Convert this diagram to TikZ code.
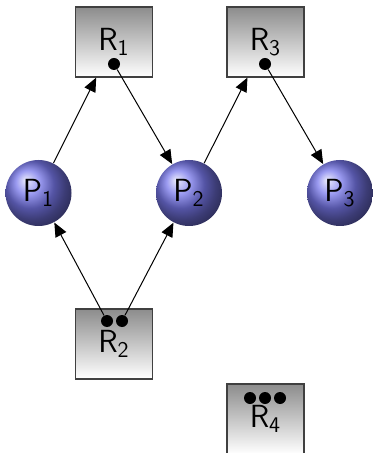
\documentclass[tikz,border=0pt]{standalone}
\usetikzlibrary{arrows.meta}
\definecolor{pblue}{RGB}{120,120,235}
\tikzset{
  res/.style={rectangle, draw=black!75, line width=.6pt, top color=black!45, bottom color=white,
    minimum width=38.5pt, minimum height=35pt, inner sep=0pt, font=\sffamily\fontsize{16}{19}\selectfont},
  proc/.style={circle, ball color=pblue, minimum size=33pt, inner sep=0pt, font=\sffamily\fontsize{16}{19}\selectfont},
  token/.style={circle, fill=black, inner sep=0pt, minimum size=6pt},
}
\begin{document}
\begin{tikzpicture}[x=.5pt, y=-.5pt, >={Triangle[length=7pt,width=6pt]}, line width=.5pt]
\useasboundingbox (0,0) rectangle (373,453);

\node[res] (R1) at (114,42) {R\textsubscript{1}};
\node[res] (R3) at (265.5,42) {R\textsubscript{3}};
\node[res] (R2) at (114,344) {R\textsubscript{2}};
\node[res] (R4) at (265.5,419) {R\textsubscript{4}};

\node[proc] (P1) at (38.5,193) {P\textsubscript{1}};
\node[proc] (P2) at (189,193) {P\textsubscript{2}};
\node[proc] (P3) at (340,193) {P\textsubscript{3}};

\node[token] (t1) at (114,64) {};
\node[token] (t3) at (265,64) {};
\node[token] (t2a) at (107,321) {};
\node[token] (t2b) at (122,321) {};
\foreach \i/\x in {a/250,b/265,c/280}
  \node[token] (t4\i) at (\x,398) {};

\draw[->] (P1) -- (R1);
\draw[->] (t1) -- (P2);
\draw[->] (P2) -- (R3);
\draw[->] (t3) -- (P3);
\draw[->] (t2a) -- (P1);
\draw[->] (t2b) -- (P2);
\end{tikzpicture}
\end{document}
